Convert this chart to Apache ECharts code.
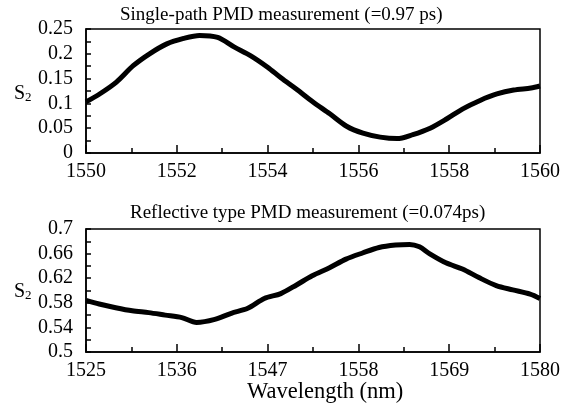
<!DOCTYPE html>
<html><head><meta charset="utf-8">
<script src="https://cdn.jsdelivr.net/npm/echarts@6/dist/echarts.min.js"></script>
<style>html,body{margin:0;padding:0;background:#fff}#c{width:572px;height:409px}</style>
</head><body><div id="c"></div>
<script>
const topTitle = "Single-path PMD measurement (=0.97 ps)";
const botTitle = "Reflective type PMD measurement (=0.074ps)";
const xName = "Wavelength (nm)";
const topX = [1550,1550.3,1550.67,1551.04,1551.4,1551.78,1552.15,1552.5,1552.9,1553.26,1553.63,1554,1554.3,1554.63,1555.0,1555.37,1555.74,1556.1,1556.48,1556.85,1557.2,1557.58,1557.95,1558.3,1558.68,1559.05,1559.42,1559.8,1560];
const topY = [0.103,0.119,0.143,0.176,0.200,0.220,0.231,0.237,0.233,0.214,0.196,0.173,0.151,0.129,0.103,0.079,0.054,0.040,0.032,0.029,0.037,0.050,0.069,0.089,0.106,0.119,0.127,0.131,0.135];
const botX = [1525,1526.6,1528.6,1530.6,1532.6,1534.6,1536.6,1538.4,1540.6,1542.6,1544.6,1546.6,1548.6,1550.5,1552.4,1554.5,1556.5,1558.5,1560.5,1562.5,1564.2,1565.4,1566.6,1568.6,1570.6,1572.6,1574.7,1576.7,1578.8,1580];
const botY = [0.584,0.578,0.572,0.567,0.564,0.560,0.556,0.548,0.553,0.563,0.571,0.587,0.595,0.609,0.624,0.637,0.651,0.661,0.670,0.674,0.675,0.671,0.660,0.645,0.635,0.621,0.608,0.601,0.594,0.587];

const FONT = "Liberation Serif";
const pairs = (xs, ys) => xs.map((x, i) => [x, ys[i]]);
const xAxisBase = (min, max, interval, gi) => ({
  type: 'value', gridIndex: gi, min, max, interval,
  axisLine: {show: true, lineStyle: {color: '#000', width: 1.5}},
  axisTick: {show: true, inside: true, length: 8, lineStyle: {color: '#000', width: 1.5}},
  minorTick: {show: true, splitNumber: 2, length: 5, lineStyle: {color: '#000', width: 1.5}},
  splitLine: {show: false},
  axisLabel: {color: '#000', fontFamily: FONT, fontSize: 20, margin: 9, formatter: v => String(Math.round(v))}
});
const yAxisBase = (min, max, interval, gi) => ({
  type: 'value', gridIndex: gi, min, max, interval,
  axisLine: {show: true, lineStyle: {color: '#000', width: 1.5}},
  axisTick: {show: true, inside: true, length: 5, lineStyle: {color: '#000', width: 1.5}},
  minorTick: {show: true, splitNumber: 2, length: 5, lineStyle: {color: '#000', width: 1.5}},
  splitLine: {show: false},
  axisLabel: {color: '#000', fontFamily: FONT, fontSize: 20, margin: 13, formatter: v => String(+v.toFixed(2))}
});
const s2 = (top) => ({type: 'text', top, left: 14, style: {text: '{s|S}{b|2}', rich: {s: {fontFamily: FONT, fontSize: 20, fill: '#000'}, b: {fontFamily: FONT, fontSize: 13, fill: '#000', padding: [8, 0, 0, 0]}}}});
const chart = echarts.init(document.getElementById('c'));
chart.setOption({
  animation: false,
  backgroundColor: '#fff',
  grid: [
    {left: 86, right: 32, top: 29, height: 124, show: true, borderColor: '#000', borderWidth: 1.5},
    {left: 86, right: 32, top: 229, height: 123, show: true, borderColor: '#000', borderWidth: 1.5}
  ],
  xAxis: [xAxisBase(1550, 1560, 2, 0), xAxisBase(1525, 1580, 11, 1)],
  yAxis: [yAxisBase(0, 0.25, 0.05, 0), yAxisBase(0.5, 0.7, 0.04, 1)],
  graphic: [
    {type: 'text', top: 6, left: 120, style: {text: topTitle, font: '19px "Liberation Serif"', fill: '#000'}},
    {type: 'text', top: 204, left: 130, style: {text: botTitle, font: '19px "Liberation Serif"', fill: '#000'}},
    {type: 'text', top: 381, left: 247, style: {text: xName, font: '22.5px "Liberation Serif"', fill: '#000'}},
    s2(84), s2(282)
  ],
  series: [
    {type: 'line', xAxisIndex: 0, yAxisIndex: 0, data: pairs(topX, topY), symbol: 'none', smooth: 0.3, lineStyle: {color: '#000', width: 5}},
    {type: 'line', xAxisIndex: 1, yAxisIndex: 1, data: pairs(botX, botY), symbol: 'none', smooth: 0.3, lineStyle: {color: '#000', width: 5}}
  ]
});
</script></body></html>
